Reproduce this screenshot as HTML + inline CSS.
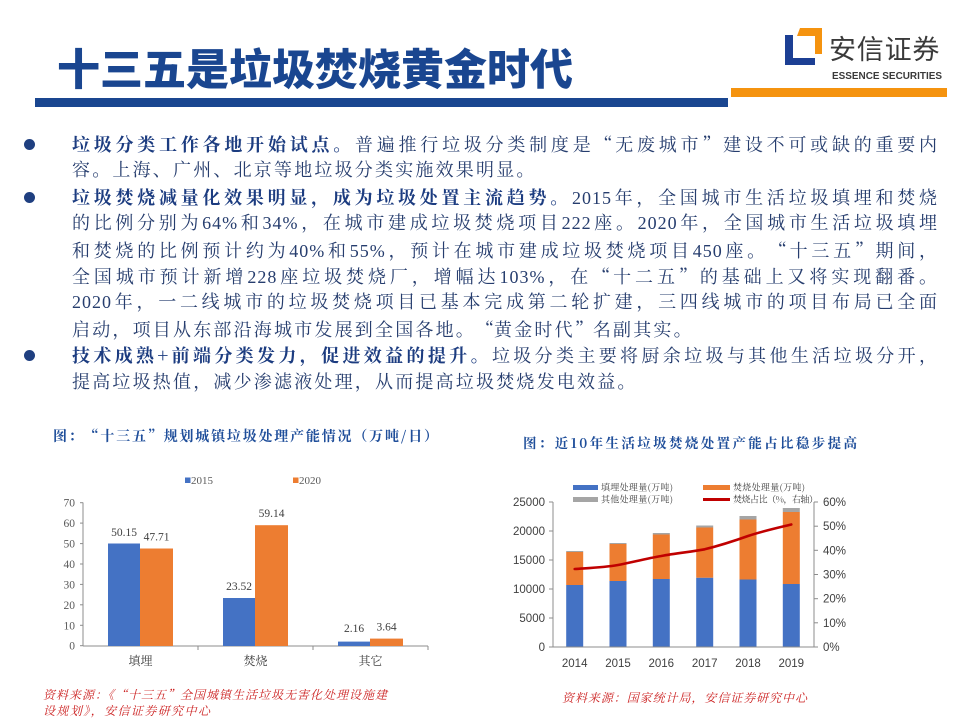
<!DOCTYPE html>
<html>
<head>
<meta charset="utf-8">
<style>
  html,body{margin:0;padding:0;background:#fff;}
  body{width:960px;height:720px;position:relative;overflow:hidden;}
  .title{position:absolute;left:57px;top:38px;font-family:"Noto Sans CJK SC",sans-serif;font-weight:900;font-size:43px;line-height:58px;color:#1a4690;letter-spacing:0px;white-space:nowrap;}
  .bar-blue{position:absolute;left:35px;top:98px;width:693px;height:9px;background:#1a4690;}
  .bar-orange{position:absolute;left:731px;top:88px;width:216px;height:9px;background:#f5930f;}
  .logo-cn{position:absolute;left:829px;top:30px;font-family:"Noto Sans CJK SC",sans-serif;font-size:27px;line-height:36px;color:#3a3a3a;letter-spacing:0.8px;white-space:nowrap;}
  .body{position:absolute;left:72px;top:131px;width:866px;font-family:"Liberation Serif","Noto Serif CJK SC",serif;font-size:18px;color:#263d6e;}
  .ln{height:26.4px;line-height:26.4px;letter-spacing:1px;text-align:justify;text-align-last:justify;white-space:normal;overflow:hidden;}
  .ln.l{text-align:left;text-align-last:left;letter-spacing:2.2px;}
  .ln b{font-weight:700;color:#1c3c80;font-family:"Noto Serif CJK SC",serif;}
  .qo,.qc{display:inline-block;width:18px;font-family:"Noto Serif CJK SC",serif;letter-spacing:0;}
  .qo{text-align:right;}
  .qc{text-align:left;}
  .dot{position:absolute;left:24px;width:11px;height:11px;border-radius:50%;background:#1f3f80;}
  svg{position:absolute;left:0;top:0;}
</style>
</head>
<body>
<div class="title">十三五是垃圾焚烧黄金时代</div>
<div class="bar-blue"></div>
<div class="bar-orange"></div>
<div class="logo-cn">安信证券</div>

<div class="dot" style="top:139px"></div>
<div class="dot" style="top:192px"></div>
<div class="dot" style="top:350px"></div>

<div class="body">
  <div class="ln"><b>垃圾分类工作各地开始试点。</b>普遍推行垃圾分类制度是<span class="qo">“</span>无废城市<span class="qc">”</span>建设不可或缺的重要内</div>
  <div class="ln l">容。上海、广州、北京等地垃圾分类实施效果明显。</div>
  <div class="ln"><b>垃圾焚烧减量化效果明显，成为垃圾处置主流趋势。</b>2015年，全国城市生活垃圾填埋和焚烧</div>
  <div class="ln">的比例分别为64%和34%，在城市建成垃圾焚烧项目222座。2020年，全国城市生活垃圾填埋</div>
  <div class="ln">和焚烧的比例预计约为40%和55%，预计在城市建成垃圾焚烧项目450座。<span class="qo">“</span>十三五<span class="qc">”</span>期间，</div>
  <div class="ln">全国城市预计新增228座垃圾焚烧厂，增幅达103%，在<span class="qo">“</span>十二五<span class="qc">”</span>的基础上又将实现翻番。</div>
  <div class="ln">2020年，一二线城市的垃圾焚烧项目已基本完成第二轮扩建，三四线城市的项目布局已全面</div>
  <div class="ln l">启动，项目从东部沿海城市发展到全国各地。<span class="qo">“</span>黄金时代<span class="qc">”</span>名副其实。</div>
  <div class="ln"><b>技术成熟+前端分类发力，促进效益的提升。</b>垃圾分类主要将厨余垃圾与其他生活垃圾分开，</div>
  <div class="ln l">提高垃圾热值，减少渗滤液处理，从而提高垃圾焚烧发电效益。</div>
</div>

<svg width="960" height="720" viewBox="0 0 960 720" xmlns="http://www.w3.org/2000/svg">
  <!-- logo icon -->
  <rect x="785" y="35" width="8" height="30" fill="#1c3f94"/>
  <rect x="785" y="58" width="30" height="7" fill="#1c3f94"/>
  <polygon points="800,28 822,28 822,54 815,54 815,36 797,36" fill="#f5930f"/>
  <text x="832" y="79" font-family="Liberation Sans, sans-serif" font-size="10" font-weight="bold" fill="#3a3a3a" textLength="110" lengthAdjust="spacingAndGlyphs">ESSENCE SECURITIES</text>

  <!-- ===== Left chart ===== -->
  <text x="53" y="441" font-family="Noto Serif CJK SC, serif" font-size="14" font-weight="bold" fill="#1f4e9a" textLength="385" lengthAdjust="spacing">图：“十三五”规划城镇垃圾处理产能情况（万吨/日）</text>
  <!-- legend -->
  <rect x="185" y="477.5" width="5.5" height="5.5" fill="#4472c4"/>
  <text x="191" y="484" font-family="Liberation Serif, serif" font-size="11" fill="#595959">2015</text>
  <rect x="293" y="477.5" width="5.5" height="5.5" fill="#ed7d31"/>
  <text x="299" y="484" font-family="Liberation Serif, serif" font-size="11" fill="#595959">2020</text>
  <!-- axes -->
  <g stroke="#8c8c8c" stroke-width="1">
    <line x1="83" y1="502.5" x2="83" y2="646"/>
    <line x1="83" y1="646" x2="428" y2="646"/>
    <line x1="80" y1="502.7" x2="83" y2="502.7"/>
    <line x1="80" y1="523.1" x2="83" y2="523.1"/>
    <line x1="80" y1="543.6" x2="83" y2="543.6"/>
    <line x1="80" y1="564" x2="83" y2="564"/>
    <line x1="80" y1="584.4" x2="83" y2="584.4"/>
    <line x1="80" y1="604.8" x2="83" y2="604.8"/>
    <line x1="80" y1="625.3" x2="83" y2="625.3"/>
    <line x1="80" y1="645.7" x2="83" y2="645.7"/>
    <line x1="198" y1="646" x2="198" y2="650"/>
    <line x1="313" y1="646" x2="313" y2="650"/>
    <line x1="428" y1="646" x2="428" y2="650"/>
  </g>
  <g font-family="Liberation Serif, serif" font-size="11.5" fill="#595959" text-anchor="end">
    <text x="75" y="649.7">0</text>
    <text x="75" y="629.3">10</text>
    <text x="75" y="608.8">20</text>
    <text x="75" y="588.4">30</text>
    <text x="75" y="568">40</text>
    <text x="75" y="547.6">50</text>
    <text x="75" y="527.1">60</text>
    <text x="75" y="506.7">70</text>
  </g>
  <!-- bars -->
  <rect x="108" y="543.5" width="32" height="102.5" fill="#4472c4"/>
  <rect x="140" y="548.5" width="33" height="97.5" fill="#ed7d31"/>
  <rect x="223" y="598" width="32" height="48" fill="#4472c4"/>
  <rect x="255" y="525.2" width="33" height="120.8" fill="#ed7d31"/>
  <rect x="338" y="641.6" width="32" height="4.4" fill="#4472c4"/>
  <rect x="370" y="638.6" width="33" height="7.4" fill="#ed7d31"/>
  <g font-family="Liberation Serif, serif" font-size="11.5" fill="#404040" text-anchor="middle">
    <text x="124" y="536">50.15</text>
    <text x="156.5" y="540.5">47.71</text>
    <text x="239" y="590">23.52</text>
    <text x="271.5" y="517">59.14</text>
    <text x="354" y="632">2.16</text>
    <text x="386.5" y="630.5">3.64</text>
  </g>
  <g font-family="Noto Serif CJK SC, serif" font-size="12" fill="#404040" text-anchor="middle">
    <text x="140.5" y="665">填埋</text>
    <text x="255.5" y="665">焚烧</text>
    <text x="370.5" y="665">其它</text>
  </g>
  <g font-family="Noto Serif CJK SC, serif" font-size="12" fill="#cc2222" font-style="italic">
    <text x="43" y="699" textLength="344" lengthAdjust="spacing">资料来源：《“十三五”全国城镇生活垃圾无害化处理设施建</text>
    <text x="43" y="715" textLength="167" lengthAdjust="spacing">设规划》，安信证券研究中心</text>
  </g>

  <!-- ===== Right chart ===== -->
  <text x="523" y="448" font-family="Noto Serif CJK SC, serif" font-size="13.5" font-weight="bold" fill="#1f4e9a" textLength="334" lengthAdjust="spacing">图：近10年生活垃圾焚烧处置产能占比稳步提高</text>
  <!-- legend -->
  <rect x="573" y="485" width="25" height="5" fill="#4472c4"/>
  <text x="601" y="490.5" font-family="Noto Serif CJK SC, serif" font-size="9" fill="#404040" textLength="72" lengthAdjust="spacing">填埋处理量(万吨)</text>
  <rect x="703" y="485" width="27" height="5" fill="#ed7d31"/>
  <text x="733" y="490.5" font-family="Noto Serif CJK SC, serif" font-size="9" fill="#404040" textLength="72" lengthAdjust="spacing">焚烧处理量(万吨)</text>
  <rect x="573" y="497" width="25" height="5" fill="#a5a5a5"/>
  <text x="601" y="502.5" font-family="Noto Serif CJK SC, serif" font-size="9" fill="#404040" textLength="72" lengthAdjust="spacing">其他处理量(万吨)</text>
  <line x1="703" y1="499.5" x2="730" y2="499.5" stroke="#c00000" stroke-width="3"/>
  <text x="733" y="502.5" font-family="Noto Serif CJK SC, serif" font-size="9" fill="#404040" textLength="85" lengthAdjust="spacing">焚烧占比（%，右轴）</text>
  <!-- bars -->
  <g>
    <rect x="566.2" y="585" width="17" height="62" fill="#4472c4"/>
    <rect x="566.2" y="552" width="17" height="33" fill="#ed7d31"/>
    <rect x="566.2" y="551" width="17" height="1" fill="#a5a5a5"/>

    <rect x="609.5" y="581" width="17" height="66" fill="#4472c4"/>
    <rect x="609.5" y="544" width="17" height="37" fill="#ed7d31"/>
    <rect x="609.5" y="543" width="17" height="1" fill="#a5a5a5"/>

    <rect x="652.8" y="579" width="17" height="68" fill="#4472c4"/>
    <rect x="652.8" y="534.5" width="17" height="44.5" fill="#ed7d31"/>
    <rect x="652.8" y="533" width="17" height="1.5" fill="#a5a5a5"/>

    <rect x="696.2" y="577.7" width="17" height="69.3" fill="#4472c4"/>
    <rect x="696.2" y="527.5" width="17" height="50.2" fill="#ed7d31"/>
    <rect x="696.2" y="525.5" width="17" height="2" fill="#a5a5a5"/>

    <rect x="739.5" y="579.5" width="17" height="67.5" fill="#4472c4"/>
    <rect x="739.5" y="519.5" width="17" height="60" fill="#ed7d31"/>
    <rect x="739.5" y="516" width="17" height="3.5" fill="#a5a5a5"/>

    <rect x="782.8" y="584" width="17" height="63" fill="#4472c4"/>
    <rect x="782.8" y="512" width="17" height="72" fill="#ed7d31"/>
    <rect x="782.8" y="508" width="17" height="4" fill="#a5a5a5"/>
  </g>
  <!-- axes -->
  <g stroke="#8c8c8c" stroke-width="1">
    <line x1="553" y1="502" x2="553" y2="647"/>
    <line x1="553" y1="647" x2="814" y2="647"/>
    <line x1="814" y1="502" x2="814" y2="647"/>
    <line x1="549" y1="502" x2="553" y2="502"/>
    <line x1="549" y1="531" x2="553" y2="531"/>
    <line x1="549" y1="560" x2="553" y2="560"/>
    <line x1="549" y1="589" x2="553" y2="589"/>
    <line x1="549" y1="618" x2="553" y2="618"/>
    <line x1="549" y1="647" x2="553" y2="647"/>
    <line x1="814" y1="502" x2="818" y2="502"/>
    <line x1="814" y1="526.2" x2="818" y2="526.2"/>
    <line x1="814" y1="550.3" x2="818" y2="550.3"/>
    <line x1="814" y1="574.5" x2="818" y2="574.5"/>
    <line x1="814" y1="598.7" x2="818" y2="598.7"/>
    <line x1="814" y1="622.8" x2="818" y2="622.8"/>
    <line x1="814" y1="647" x2="818" y2="647"/>
  </g>
  <!-- line -->
  <path d="M574.7,569 C589,568 604,567.5 618,565 C633,562 647,558.5 661.3,556 C676,553 691,552 704.7,549.3 C720,545.5 734,541 748,536 C763,531 777,528 791.3,524.5" fill="none" stroke="#c00000" stroke-width="2.6" stroke-linecap="round" stroke-linejoin="round"/>
  <g font-family="Liberation Sans, sans-serif" font-size="11.5" fill="#404040" text-anchor="end">
    <text x="545" y="651">0</text>
    <text x="545" y="622">5000</text>
    <text x="545" y="593">10000</text>
    <text x="545" y="564">15000</text>
    <text x="545" y="535">20000</text>
    <text x="545" y="506">25000</text>
  </g>
  <g font-family="Liberation Sans, sans-serif" font-size="11.5" fill="#404040">
    <text x="823" y="651">0%</text>
    <text x="823" y="626.8">10%</text>
    <text x="823" y="602.7">20%</text>
    <text x="823" y="578.5">30%</text>
    <text x="823" y="554.3">40%</text>
    <text x="823" y="530.2">50%</text>
    <text x="823" y="506">60%</text>
  </g>
  <g font-family="Liberation Sans, sans-serif" font-size="11.5" fill="#404040" text-anchor="middle">
    <text x="574.7" y="667">2014</text>
    <text x="618" y="667">2015</text>
    <text x="661.3" y="667">2016</text>
    <text x="704.7" y="667">2017</text>
    <text x="748" y="667">2018</text>
    <text x="791.3" y="667">2019</text>
  </g>
  <text x="562" y="702" font-family="Noto Serif CJK SC, serif" font-size="12" fill="#cc2222" font-style="italic" textLength="245" lengthAdjust="spacing">资料来源：国家统计局，安信证券研究中心</text>
</svg>
</body>
</html>
